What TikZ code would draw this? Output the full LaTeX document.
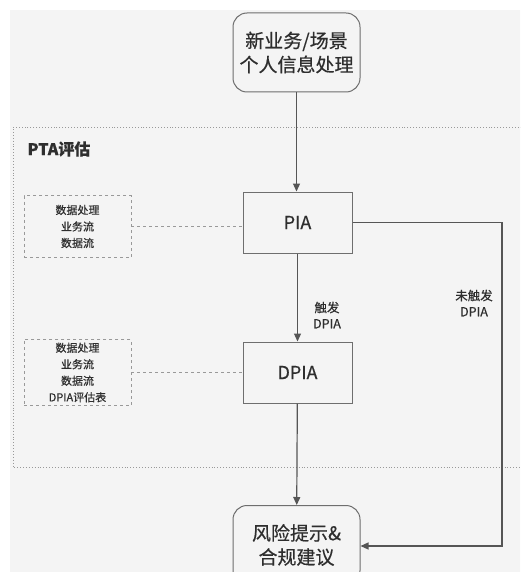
\documentclass[tikz,border=0pt]{standalone}
\usepackage{fontspec}
\setmainfont{Noto Sans CJK SC}[FakeBold=0.5]
\usetikzlibrary{arrows.meta}
\definecolor{bg}{HTML}{F4F4F4}
\definecolor{ln}{HTML}{555555}
\definecolor{tx}{HTML}{2E2E2E}
\tikzset{
  every node/.style={text=tx},
  endbox/.style={draw=ln!85, line width=1pt, rounded corners=14pt, minimum width=127pt, minimum height=79pt, align=center, font=\fontsize{19}{24}\selectfont},
  stepbox/.style={draw=ln!85, line width=1pt, minimum width=109pt, minimum height=61pt, font=\fontsize{18}{22}\selectfont},
  notebox/.style={draw=ln!60, dashed, line width=0.9pt, minimum width=107pt, minimum height=62pt, align=center, font=\fontsize{11}{16.5}\selectfont},
  flow/.style={draw=ln, line width=1.2pt, -{Triangle[length=8pt,width=7pt]}},
  link/.style={draw=ln!60, dashed, line width=0.9pt},
  lbl/.style={align=center, font=\fontsize{12.5}{16}\selectfont}
}
\begin{document}
\begin{tikzpicture}[x=1pt,y=-1pt]
\useasboundingbox (0,0) rectangle (520,572);
\begin{scope}
\clip (0,0) rectangle (520,572);
\fill[bg] (10,10) rectangle (530,580);
\draw[ln!60, dotted, line width=0.9pt] (530,127) -- (13,127) -- (13,467) -- (530,467);
\node[anchor=west, font=\fontsize{16}{18}\selectfont\bfseries] (pta) at (24,149) {PTA评估};
\node[endbox] (start) at (296.5,52.5) {新业务/场景\\个人信息处理};
\node[stepbox] (pia) at (297.5,222.5) {PIA};
\node[stepbox] (dpia) at (297.5,372.5) {DPIA};
\node[notebox] (n1) at (77.5,226.5) {数据处理\\业务流\\数据流};
\node[notebox] (n2) at (77.5,372.5) {数据处理\\业务流\\数据流\\DPIA评估表};
\node[endbox] (end) at (296.5,545) {风险提示\&\\合规建议};
\coordinate (c0) at (502,0);
\coordinate (c1) at (pia.east -| c0);
\coordinate (c2) at (502,546);
\draw[flow] (start) -- (start|-pia.north);
\draw[flow] (pia) -- (dpia);
\draw[flow] (dpia) -- (end);
\draw[flow] (pia.east) -- (c1) -- (c2) -- (c2-|end.east);
\draw[link] (n1.east) -- (n1.east-|pia.west);
\draw[link] (n2.east) -- (n2.east-|dpia.west);
\node[lbl] (l1) at (327,315) {触发\\DPIA};
\node[lbl] (l2) at (474,303) {未触发\\DPIA};
\end{scope}
\end{tikzpicture}
\end{document}
